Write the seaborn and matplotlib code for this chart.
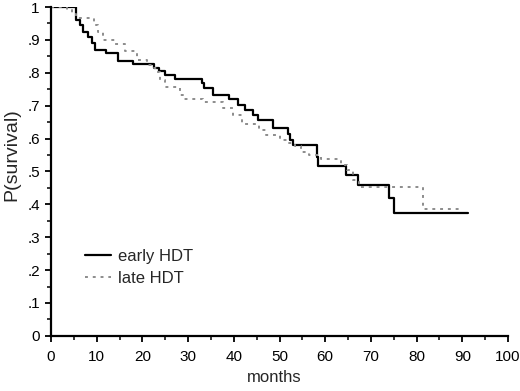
import matplotlib
matplotlib.use("Agg")
import matplotlib.pyplot as plt
import seaborn as sns
import pandas as pd
from matplotlib.ticker import MultipleLocator, FixedLocator

# --- data ---
early_months = [0, 5.5, 6.3, 7.0, 8.1, 8.9, 9.6, 12.0, 14.7, 17.9, 22.5, 23.6, 25.0, 27.1,
                33.0, 33.5, 35.5, 39.0, 41.0, 42.4, 44.2, 45.3, 48.6, 51.8, 52.3, 52.9,
                58.1, 58.5, 64.5, 67.2, 74.0, 75.1, 91.3]
early_surv = [1.0, .96, .945, .924, .909, .89, .869, .86, .836, .827, .815, .806, .793, .781,
              .769, .754, .733, .72, .702, .687, .672, .656, .631, .613, .596, .58,
              .545, .517, .489, .459, .418, .375, .375]

late_months = [0, 3.5, 4.6, 5.5, 9.4, 10.3, 11.4, 14.0, 16.2, 18.8, 21.0, 22.3, 23.1, 23.8,
               25.0, 28.2, 28.8, 33.3, 37.6, 39.9, 41.7, 45.5, 47.0, 50.2, 51.9, 53.5, 54.8,
               56.5, 59.0, 63.5, 64.7, 66.0, 67.3, 81.4, 89.5]
late_surv = [1.0, .99, .98, .968, .945, .925, .9, .887, .866, .839, .824, .815, .803, .778,
             .756, .733, .72, .712, .693, .672, .644, .626, .611, .596, .586, .578, .56,
             .55, .537, .52, .505, .474, .454, .385, .385]

series_labels = ["early HDT", "late HDT"]
x_ticks = [0, 10, 20, 30, 40, 50, 60, 70, 80, 90, 100]
y_ticks = [0, .1, .2, .3, .4, .5, .6, .7, .8, .9, 1]
y_tick_labels = ["0", ".1", ".2", ".3", ".4", ".5", ".6", ".7", ".8", ".9", "1"]

sns.set_style("white")
plt.rcParams["font.family"] = ["Liberation Sans", "DejaVu Sans"]

fig = plt.figure(figsize=(5.2, 3.91), dpi=100)
ax = fig.add_axes([0.098, 0.141, 0.879, 0.841])

df_early = pd.DataFrame({"months": early_months, "P": early_surv})
df_late = pd.DataFrame({"months": late_months, "P": late_surv})

sns.lineplot(data=df_early, x="months", y="P", ax=ax, color="black", linewidth=1.6,
             drawstyle="steps-post", label=series_labels[0], sort=False)
sns.lineplot(data=df_late, x="months", y="P", ax=ax, color="#8c8c8c", linewidth=1.4,
             linestyle=(0, (1.5, 2.5)), drawstyle="steps-post", label=series_labels[1], sort=False)

ax.set_xlim(0, 100)
ax.set_ylim(0, 1)
ax.xaxis.set_major_locator(FixedLocator(x_ticks))
ax.xaxis.set_minor_locator(MultipleLocator(5))
ax.yaxis.set_major_locator(FixedLocator(y_ticks))
ax.set_yticklabels(y_tick_labels)
ax.yaxis.set_minor_locator(MultipleLocator(0.05))

for s in ["top", "right"]:
    ax.spines[s].set_visible(False)
for s in ["left", "bottom"]:
    ax.spines[s].set_color("black")
    ax.spines[s].set_linewidth(1.6)

ax.tick_params(axis="both", which="both", direction="out", color="black",
               labelsize=11, labelcolor="black")
ax.tick_params(axis="x", which="major", length=4, width=1.3, bottom=True, pad=6)
ax.tick_params(axis="y", which="major", length=4, width=1.3, left=True, pad=4)
ax.tick_params(axis="both", which="minor", length=3, width=1.1, bottom=True, left=True)

ax.set_xlabel("months", fontsize=12)
ax.xaxis.set_label_coords(0.489, -0.105)
ax.set_ylabel("P(survival)", fontsize=14)
ax.yaxis.set_label_coords(-0.068, 0.55)

ax.legend(frameon=False, loc="upper left", bbox_to_anchor=(0.074, 0.265), fontsize=12,
          handlelength=1.6, handletextpad=0.4, labelspacing=0.45, borderpad=0,
          borderaxespad=0)

fig.savefig("out.png", dpi=100)
